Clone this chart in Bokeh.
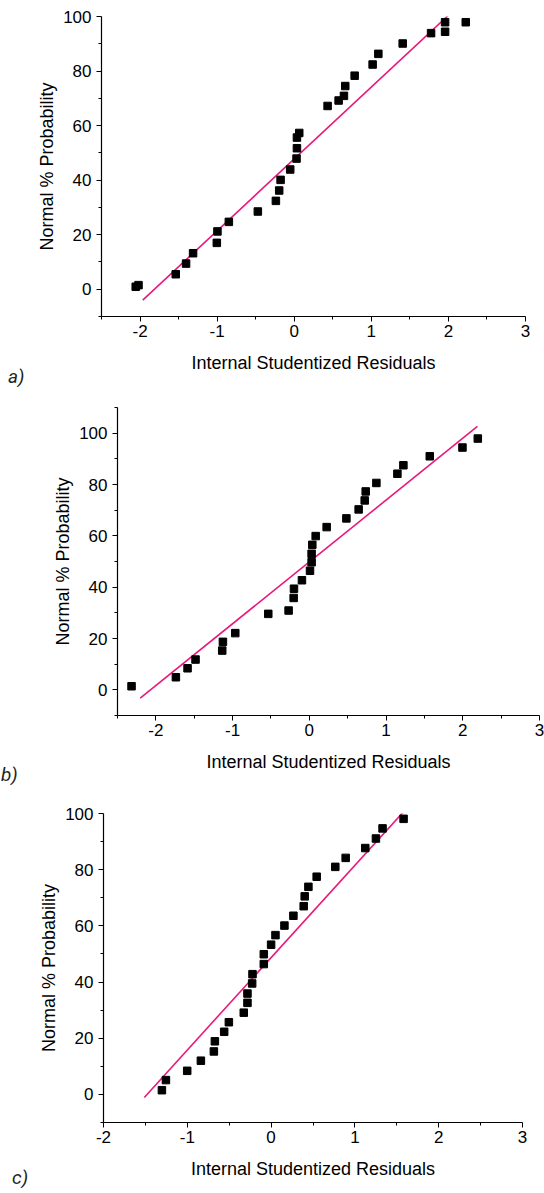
from bokeh.plotting import figure
from bokeh.models import Range1d, FixedTicker, LinearAxis, Div
from bokeh.embed import file_html
from bokeh.resources import INLINE

# ---------------- data ----------------
# Panel a
a_x = [-2.056, -2.02, -1.537, -1.403, -1.312, -1.004, -0.996, -0.848, -0.472, -0.238,
       -0.195, -0.177, -0.052, 0.030, 0.035, 0.035, 0.065, 0.433, 0.576, 0.645,
       0.662, 0.784, 1.017, 1.091, 1.407, 1.775, 1.957, 1.957, 2.225]
a_y = [0.9, 1.5, 5.5, 9.4, 13.2, 17.0, 21.2, 24.7, 28.5, 32.4,
       36.2, 40.1, 43.9, 47.9, 51.7, 55.6, 57.3, 67.2, 69.2, 70.9,
       74.5, 78.3, 82.4, 86.3, 90.1, 93.9, 94.4, 97.9, 97.9]
a_line_x = [-1.965, 2.10]
a_line_y = [-4.0, 103.1]

# Panel b
b_x = [-2.317, -1.739, -1.587, -1.483, -1.135, -1.126, -0.965, -0.535, -0.270, -0.204,
       -0.200, -0.096, 0.009, 0.030, 0.030, 0.039, 0.083, 0.226, 0.483, 0.643,
       0.722, 0.735, 0.874, 1.148, 1.226, 1.570, 1.996, 2.196]
b_y = [1.4, 4.9, 8.4, 11.8, 15.3, 18.7, 22.1, 29.6, 30.9, 35.8,
       39.4, 42.7, 46.4, 49.7, 53.0, 56.5, 59.9, 63.4, 66.8, 70.3,
       73.8, 77.3, 80.6, 84.2, 87.5, 91.0, 94.4, 97.9]
b_line_x = [-2.204, 2.191]
b_line_y = [-3.25, 102.6]

# Panel c
c_x = [-1.303, -1.255, -1.001, -0.838, -0.683, -0.671, -0.560, -0.504, -0.326, -0.282,
       -0.282, -0.226, -0.222, -0.087, -0.087, 0.000, 0.052, 0.159, 0.266, 0.389,
       0.401, 0.445, 0.544, 0.766, 0.890, 1.124, 1.251, 1.330, 1.581]
c_y = [1.5, 5.1, 8.4, 12.0, 15.3, 18.9, 22.3, 25.7, 29.1, 32.6,
       35.9, 39.5, 42.8, 46.4, 49.9, 53.3, 56.7, 60.1, 63.6, 67.0,
       70.5, 73.9, 77.5, 81.0, 84.2, 87.7, 91.1, 94.7, 98.1]
c_line_x = [-1.513, 1.589]
c_line_y = [-1.07, 100.9]

x_major = [-2, -1, 0, 1, 2, 3]
x_labels = ["-2", "-1", "0", "1", "2", "3"]
x_minor = [-2.5, -1.5, -0.5, 0.5, 1.5, 2.5]
y_major = [0, 20, 40, 60, 80, 100]
y_minor = [-10, 10, 30, 50, 70, 90, 110]

LINE_COLOR = "#E8197D"
FONT = "Liberation Sans"


def panel(xs, ys, lx, ly, xr, yr, w, h, left, right, top, bottom):
    p = figure(width=w, height=h, output_backend="svg", toolbar_location=None,
               x_range=Range1d(*xr), y_range=Range1d(*yr),
               x_axis_location=None, y_axis_location=None,
               min_border_left=left, min_border_right=right,
               min_border_top=top, min_border_bottom=bottom)
    p.outline_line_color = None
    p.xgrid.visible = False
    p.ygrid.visible = False

    xa = LinearAxis(ticker=FixedTicker(ticks=x_major, minor_ticks=x_minor))
    xa.major_label_overrides = {t: s for t, s in zip(x_major, x_labels)}
    ya = LinearAxis(ticker=FixedTicker(ticks=y_major, minor_ticks=y_minor))
    xa.axis_label = "Internal Studentized Residuals"
    ya.axis_label = "Normal % Probability"
    for ax in (xa, ya):
        ax.axis_line_color = "black"
        ax.axis_line_width = 1.2
        ax.major_tick_line_color = "black"
        ax.minor_tick_line_color = "black"
        ax.major_tick_in = 0
        ax.major_tick_out = 5
        ax.minor_tick_in = 0
        ax.minor_tick_out = 3
        ax.major_label_text_font = FONT
        ax.major_label_text_font_size = "17px"
        ax.major_label_text_color = "black"
        ax.axis_label_text_font = FONT
        ax.axis_label_text_font_size = "18px"
        ax.axis_label_text_font_style = "normal"
        ax.axis_label_text_color = "black"
    xa.major_label_standoff = 3
    xa.axis_label_standoff = 13
    ya.major_label_standoff = 5
    ya.axis_label_standoff = 3
    p.add_layout(xa, "below")
    p.add_layout(ya, "left")

    p.line(lx, ly, line_color=LINE_COLOR, line_width=1.6)
    p.scatter(xs, ys, marker="square", size=7.5, fill_color="black", line_color="black")
    return p


def tag(text, left, top):
    return Div(text=text, styles={
        "position": "absolute", "left": f"{left}px", "top": f"{top}px",
        "font-family": "Roboto", "font-style": "italic", "font-size": "19px",
        "line-height": "1", "color": "#222222", "margin": "0", "white-space": "nowrap"})


pa = panel(a_x, a_y, a_line_x, a_line_y, (-2.5, 3), (-10, 100), 544, 400,
           101, 19, 16, 84)
pb = panel(b_x, b_y, b_line_x, b_line_y, (-2.5, 3), (-10, 110), 544, 400,
           117, 5, 7, 85)
pc = panel(c_x, c_y, c_line_x, c_line_y, (-2, 3), (-10, 100), 544, 393,
           103, 22, 13, 71)

ta = tag("a)", 8, 367)
tb = tag("b)", 1, 765)
tc = tag("c)", 12, 1168)

open("out.html", "w").write(file_html([pa, pb, pc, ta, tb, tc], INLINE))
